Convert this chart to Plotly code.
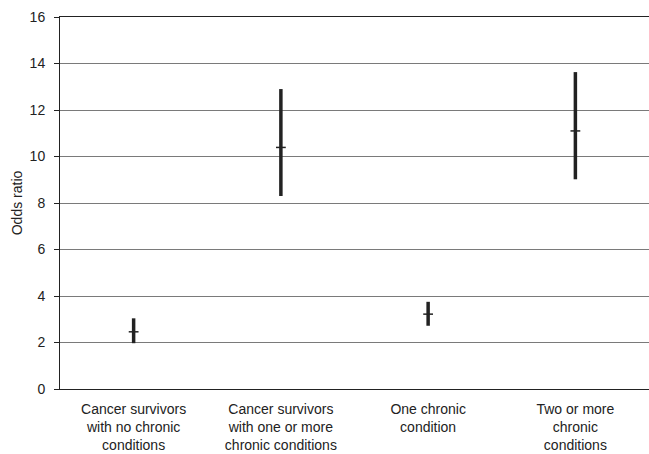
import plotly.graph_objects as go

categories = [
    "Cancer survivors<br>with no chronic<br>conditions",
    "Cancer survivors<br>with one or more<br>chronic conditions",
    "One chronic<br>condition",
    "Two or more<br>chronic<br>conditions",
]
odds_ratio = [2.46, 10.39, 3.22, 11.1]
ci_lower = [1.97, 8.3, 2.72, 9.02]
ci_upper = [3.04, 12.9, 3.75, 13.63]

err_plus = [u - o for u, o in zip(ci_upper, odds_ratio)]
err_minus = [o - l for o, l in zip(odds_ratio, ci_lower)]

fig = go.Figure()
fig.add_trace(go.Scatter(
    x=categories, y=odds_ratio, mode="markers",
    marker=dict(symbol="line-ew", size=7, line=dict(width=1.5, color="#222222"), color="#222222"),
    error_y=dict(type="data", symmetric=False, array=err_plus, arrayminus=err_minus,
                 width=0, thickness=3.5, color="#222222"),
    showlegend=False, hoverinfo="skip",
))

fig.update_layout(
    width=649, height=454,
    margin=dict(l=60, r=0, t=17, b=65, autoexpand=False),
    paper_bgcolor="white", plot_bgcolor="white",
    font=dict(family="Liberation Sans, Arial, sans-serif", size=14, color="#222222"),
    xaxis=dict(
        range=[-0.5, 3.5], automargin=False,
        showline=True, linecolor="#222222", linewidth=1, mirror=True,
        showgrid=False, ticks="", tickfont=dict(size=14), ticklabelstandoff=7,
    ),
    yaxis=dict(
        range=[0, 16], dtick=2, showline=True, linecolor="#222222", linewidth=1,
        automargin=False,
        ticks="outside", ticklen=5, tickcolor="#222222", ticklabelstandoff=6,
        showgrid=True, gridcolor="#7a7a7a", gridwidth=1,
        zeroline=False, tickfont=dict(size=14),
        title=dict(text="Odds ratio", font=dict(size=14), standoff=3),
    ),
)

fig.write_html("out.html", config={"displayModeBar": False},
               post_script="document.body.style.margin='0';document.body.style.padding='0';")
